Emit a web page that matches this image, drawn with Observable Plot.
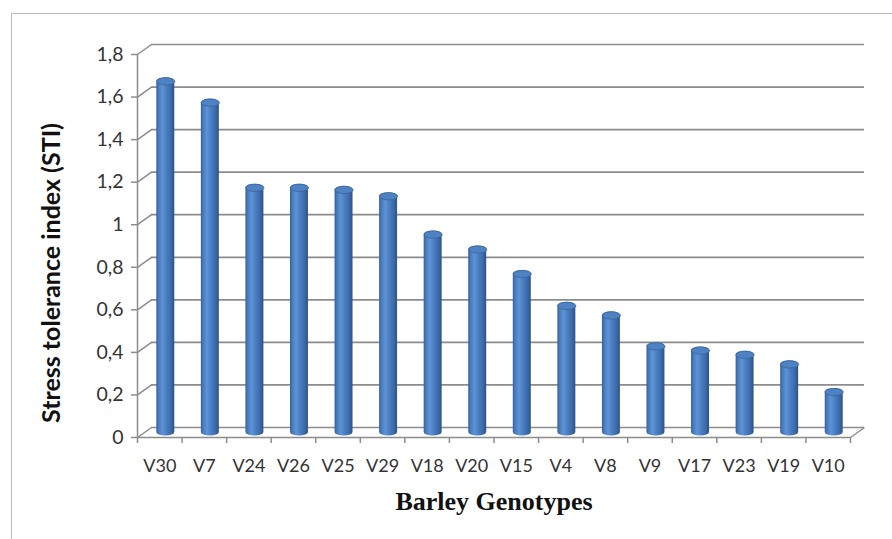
<!DOCTYPE html>
<html>
<head>
<meta charset="utf-8">
<script src="https://cdn.jsdelivr.net/npm/d3@7"></script>
<script src="https://cdn.jsdelivr.net/npm/@observablehq/plot@0.6"></script>
<style>
  html, body { margin: 0; padding: 0; background: #fff; }
  #wrap { position: relative; width: 892px; height: 539px; overflow: hidden; }
  #border { position: absolute; left: 11px; top: 13px; width: 900px; height: 600px;
            border-left: 1.5px solid #bcbcbc; border-top: 1.5px solid #bcbcbc; box-sizing: border-box; }
  #chart { position: absolute; left: 0; top: 0; }
</style>
</head>
<body>
<svg width="0" height="0" style="position:absolute">
  <defs>
    <linearGradient id="cyl" x1="0" y1="0" x2="1" y2="0">
      <stop offset="0%" stop-color="#35609b"/>
      <stop offset="14%" stop-color="#4a7dc0"/>
      <stop offset="34%" stop-color="#5e93d6"/>
      <stop offset="55%" stop-color="#4b80c4"/>
      <stop offset="82%" stop-color="#3c6aa8"/>
      <stop offset="100%" stop-color="#2c5185"/>
    </linearGradient>
  </defs>
</svg>
<div id="wrap">
  <div id="border"></div>
  <div id="chart"></div>
</div>
<script>
const genotypes = ["V30","V7","V24","V26","V25","V29","V18","V20","V15","V4","V8","V9","V17","V23","V19","V10"];
const sti = [1.65, 1.55, 1.15, 1.15, 1.14, 1.11, 0.93, 0.86, 0.745, 0.595, 0.55, 0.405, 0.385, 0.365, 0.32, 0.19];
const yTicks = [0, 0.2, 0.4, 0.6, 0.8, 1.0, 1.2, 1.4, 1.6, 1.8];
const yTickLabels = ["0", "0,2", "0,4", "0,6", "0,8", "1", "1,2", "1,4", "1,6", "1,8"];
const xTitle = "Barley Genotypes";
const yTitle = "Stress tolerance index (STI)";

const table = genotypes.map((g, i) => ({g, i, v: sti[i]}));
const yTickTable = yTicks.map((v, i) => ({v, label: yTickLabels[i]}));

const W = 892, H = 539;
const mL = 137, mR = 42, mT = 54, mB = 102;
const kx = genotypes.length / (W - mL - mR);   // data units per pixel (x)
const ky = 1.8 / (H - mT - mB);                 // data units per pixel (y)
const DX = 14, DY = 10;                         // 3D depth offset in pixels
const grid = "#8c8c8c";

const ellipse = {
  draw(ctx) {
    const a = 9, b = 3.6, k = 0.5523;
    ctx.moveTo(a, 0);
    ctx.bezierCurveTo(a, b * k, a * k, b, 0, b);
    ctx.bezierCurveTo(-a * k, b, -a, b * k, -a, 0);
    ctx.bezierCurveTo(-a, -b * k, -a * k, -b, 0, -b);
    ctx.bezierCurveTo(a * k, -b, a, -b * k, a, 0);
    ctx.closePath();
  }
};

const plot = Plot.plot({
  width: W, height: H,
  marginLeft: mL, marginRight: mR, marginTop: mT, marginBottom: mB,
  x: {type: "linear", domain: [0, genotypes.length], axis: null},
  y: {domain: [0, 1.8], axis: null},
  style: {background: "transparent", overflow: "visible"},
  marks: [
    // back wall gridlines
    Plot.ruleY(yTicks, {y: d => d, dx: DX, dy: -DY, stroke: grid, strokeWidth: 1.7}),
    // side wall diagonals
    Plot.link(yTicks, {x1: 0, y1: d => d, x2: DX * kx, y2: d => d + DY * ky, stroke: grid, strokeWidth: 1.5}),
    // right floor diagonal
    Plot.link([0], {x1: genotypes.length, y1: 0, x2: genotypes.length + DX * kx, y2: DY * ky, stroke: grid, strokeWidth: 1.5}),
    // front floor edge & front y axis
    Plot.ruleY([0], {stroke: grid, strokeWidth: 1.5}),
    Plot.ruleX([0], {y1: 0, y2: 1.8, stroke: grid, strokeWidth: 1.5}),
    // tick marks
    Plot.ruleY(yTicks, {y: d => d, x1: -6 * kx, x2: 0, stroke: grid, strokeWidth: 1.5}),
    Plot.ruleX(d3.range(genotypes.length + 1), {x: d => d, y1: 0, y2: -6 * ky, stroke: grid, strokeWidth: 1.5}),
    // cylinders
    Plot.rectY(table, {
      x1: d => d.i, x2: d => d.i + 1, y1: 0, y2: "v",
      insetLeft: 13.3, insetRight: 13.3, insetTop: -3.6, insetBottom: -3.6,
      dx: 6, dy: -5, rx: 9, ry: 3.6, fill: "url(#cyl)"
    }),
    Plot.dot(table, {
      x: d => d.i + 0.5, y: "v", dx: 6, dy: -5, r: 5, symbol: ellipse,
      fill: "#4f82c3", stroke: "#3a6399", strokeWidth: 0.8
    }),
    // tick labels
    Plot.text(yTickTable, {
      x: 0, y: "v", text: "label", dx: -14, textAnchor: "end",
      fontFamily: "Lato", fontSize: 19.5, fill: "#333"
    }),
    Plot.text(table, {
      x: d => d.i + 0.5, y: 0, text: "g", dy: 29,
      fontFamily: "Lato", fontSize: 18, fill: "#333"
    }),
    // axis titles
    Plot.text([yTitle], {
      frameAnchor: "left", text: d => d, dx: -86, dy: 27, rotate: -90,
      textAnchor: "middle", lineAnchor: "middle",
      fontFamily: "Lato", fontWeight: "bold", fontSize: 25, fill: "#111"
    }),
    Plot.text([xTitle], {
      frameAnchor: "bottom", text: d => d, dy: 64,
      textAnchor: "middle", lineAnchor: "middle",
      fontFamily: "Liberation Serif", fontWeight: "bold", fontSize: 26, fill: "#111"
    })
  ]
});
document.getElementById("chart").appendChild(plot);
</script>
</body>
</html>
